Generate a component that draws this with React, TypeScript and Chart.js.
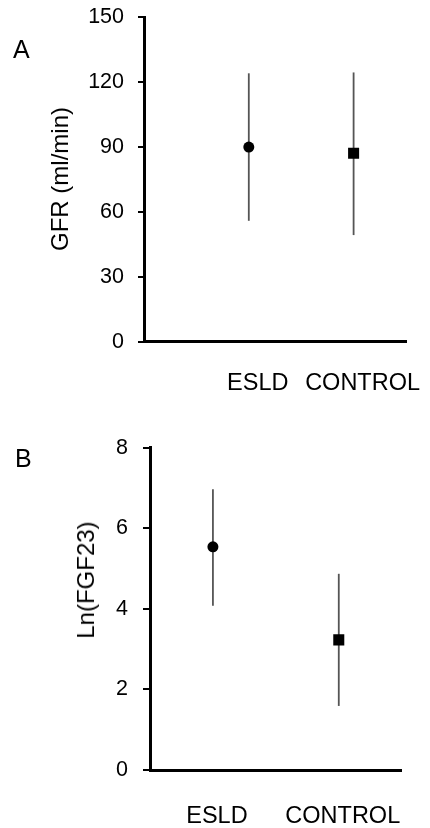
import React, { useEffect, useRef } from "react";
import { Chart, registerables } from "chart.js";

Chart.register(...registerables);

const FONT = '"Liberation Sans", Arial, Helvetica, sans-serif';
Chart.defaults.font.family = FONT;
Chart.defaults.color = "#000";

// ---- data ----
const categories = ["ESLD", "CONTROL"];
const markerStyles = ["circle", "rect"];
const markerRadius = [5.5, 7.8];

const gfrMean = [90, 87.1];
const gfrLower = [55.9, 49.3];
const gfrUpper = [124.1, 124.5];
const gfrTicks = [0, 30, 60, 90, 120, 150];
const gfrTitle = "GFR (ml/min)";

const fgfMean = [5.54, 3.23];
const fgfLower = [4.08, 1.59];
const fgfUpper = [6.97, 4.87];
const fgfTicks = [0, 2, 4, 6, 8];
const fgfTitle = "Ln(FGF23)";

type PanelProps = {
  mean: number[];
  lower: number[];
  upper: number[];
  yTicks: number[];
  height: number;
  padTop: number;
  padRight: number;
  axisWidth: number;
  xAxisHeight: number;
  xMin: number;
  xMax: number;
  xLabelPad: number;
  xLabelShift: number;
  tickLen: number;
  tickPad: number;
};

const errorBarPlugin = {
  id: "errorBars",
  beforeDatasetsDraw(chart: any, _args: any, opts: any) {
    const { ctx, scales } = chart;
    const xs = scales.x;
    const ys = scales.y;
    const lower: number[] = opts.lower || [];
    const upper: number[] = opts.upper || [];
    ctx.save();
    ctx.strokeStyle = "#555";
    ctx.lineWidth = 1.8;
    lower.forEach((lo, i) => {
      const x = xs.getPixelForValue(i + 1);
      ctx.beginPath();
      ctx.moveTo(x, ys.getPixelForValue(lo));
      ctx.lineTo(x, ys.getPixelForValue(upper[i]));
      ctx.stroke();
    });
    ctx.restore();
  },
};

function Panel(p: PanelProps) {
  const ref = useRef<HTMLCanvasElement | null>(null);
  useEffect(() => {
    if (!ref.current) return;
    const chart = new Chart(ref.current, {
      type: "scatter",
      data: {
        datasets: [
          {
            data: p.mean.map((m, i) => ({ x: i + 1, y: m })),
            pointStyle: markerStyles as any,
            pointRadius: markerRadius,
            pointHoverRadius: markerRadius,
            backgroundColor: "#000",
            borderColor: "#000",
            borderWidth: 0,
          },
        ],
      },
      options: {
        responsive: false,
        animation: false,
        events: [],
        layout: {
          padding: { top: p.padTop, right: p.padRight, left: 0, bottom: 0 },
        },
        plugins: {
          legend: { display: false },
          tooltip: { enabled: false },
          errorBars: { lower: p.lower, upper: p.upper },
        } as any,
        scales: {
          x: {
            type: "linear",
            min: p.xMin,
            max: p.xMax,
            afterBuildTicks: (scale: any) => {
              scale.ticks = categories.map((_, i) => ({ value: i + 1 }));
            },
            afterFit: (scale: any) => {
              scale.height = p.xAxisHeight;
              scale.paddingLeft = 0;
              scale.paddingRight = 0;
              scale.paddingTop = 0;
              scale.paddingBottom = 0;
            },
            ticks: {
              autoSkip: false,
              maxRotation: 0,
              minRotation: 0,
              padding: p.xLabelPad,
              labelOffset: p.xLabelShift,
              font: { size: 23.5 },
              color: "#000",
              callback: (v: any) => categories[Math.round(Number(v)) - 1] ?? "",
            },
            grid: { display: false, drawTicks: false },
            border: { display: true, color: "#000", width: 3 },
          },
          y: {
            type: "linear",
            min: p.yTicks[0],
            max: p.yTicks[p.yTicks.length - 1],
            afterBuildTicks: (scale: any) => {
              scale.ticks = p.yTicks.map((v) => ({ value: v }));
            },
            afterFit: (scale: any) => {
              scale.width = p.axisWidth;
              scale.paddingLeft = 0;
              scale.paddingRight = 0;
              scale.paddingTop = 0;
              scale.paddingBottom = 0;
            },
            ticks: {
              padding: p.tickPad,
              font: { size: 21.5 },
              color: "#000",
            },
            grid: {
              display: true,
              drawOnChartArea: false,
              drawTicks: true,
              tickLength: p.tickLen,
              color: "#000",
              lineWidth: 2,
            },
            border: { display: true, color: "#000", width: 3 },
          },
        },
      },
      plugins: [errorBarPlugin],
    });
    return () => chart.destroy();
  }, []);
  return (
    <canvas
      ref={ref}
      width={430}
      height={p.height}
      style={{ display: "block", width: 430, height: p.height }}
    />
  );
}

const textBase: React.CSSProperties = {
  position: "absolute",
  fontFamily: FONT,
  lineHeight: 1,
  whiteSpace: "nowrap",
  color: "#000",
};

export default function App() {
  return (
    <div
      style={{
        position: "absolute",
        left: 0,
        top: 0,
        width: 430,
        height: 828,
        background: "#fff",
        overflow: "hidden",
      }}
    >
      <div style={{ position: "absolute", left: 0, top: 0 }}>
        <Panel
          mean={gfrMean}
          lower={gfrLower}
          upper={gfrUpper}
          yTicks={gfrTicks}
          height={400}
          padTop={17.3}
          padRight={24}
          axisWidth={144}
          xAxisHeight={58.3}
          xMin={0}
          xMax={2.5}
          xLabelPad={28}
          xLabelShift={9}
          tickLen={6}
          tickPad={14}
        />
      </div>
      <div style={{ position: "absolute", left: 0, top: 400 }}>
        <Panel
          mean={fgfMean}
          lower={fgfLower}
          upper={fgfUpper}
          yTicks={fgfTicks}
          height={428}
          padTop={47.7}
          padRight={28.3}
          axisWidth={150}
          xAxisHeight={58}
          xMin={0.5}
          xMax={2.5}
          xLabelPad={32}
          xLabelShift={4}
          tickLen={7}
          tickPad={15}
        />
      </div>
      <div style={{ ...textBase, left: 13, top: 36.7, fontSize: 25 }}>A</div>
      <div style={{ ...textBase, left: 15, top: 445.7, fontSize: 25 }}>B</div>
      <div
        style={{
          ...textBase,
          left: 60,
          top: 179,
          fontSize: 24,
          transform: "translate(-50%, -50%) rotate(-90deg)",
        }}
      >
        {gfrTitle}
      </div>
      <div
        style={{
          ...textBase,
          left: 86,
          top: 580,
          fontSize: 24,
          transform: "translate(-50%, -50%) rotate(-90deg)",
        }}
      >
        {fgfTitle}
      </div>
    </div>
  );
}
